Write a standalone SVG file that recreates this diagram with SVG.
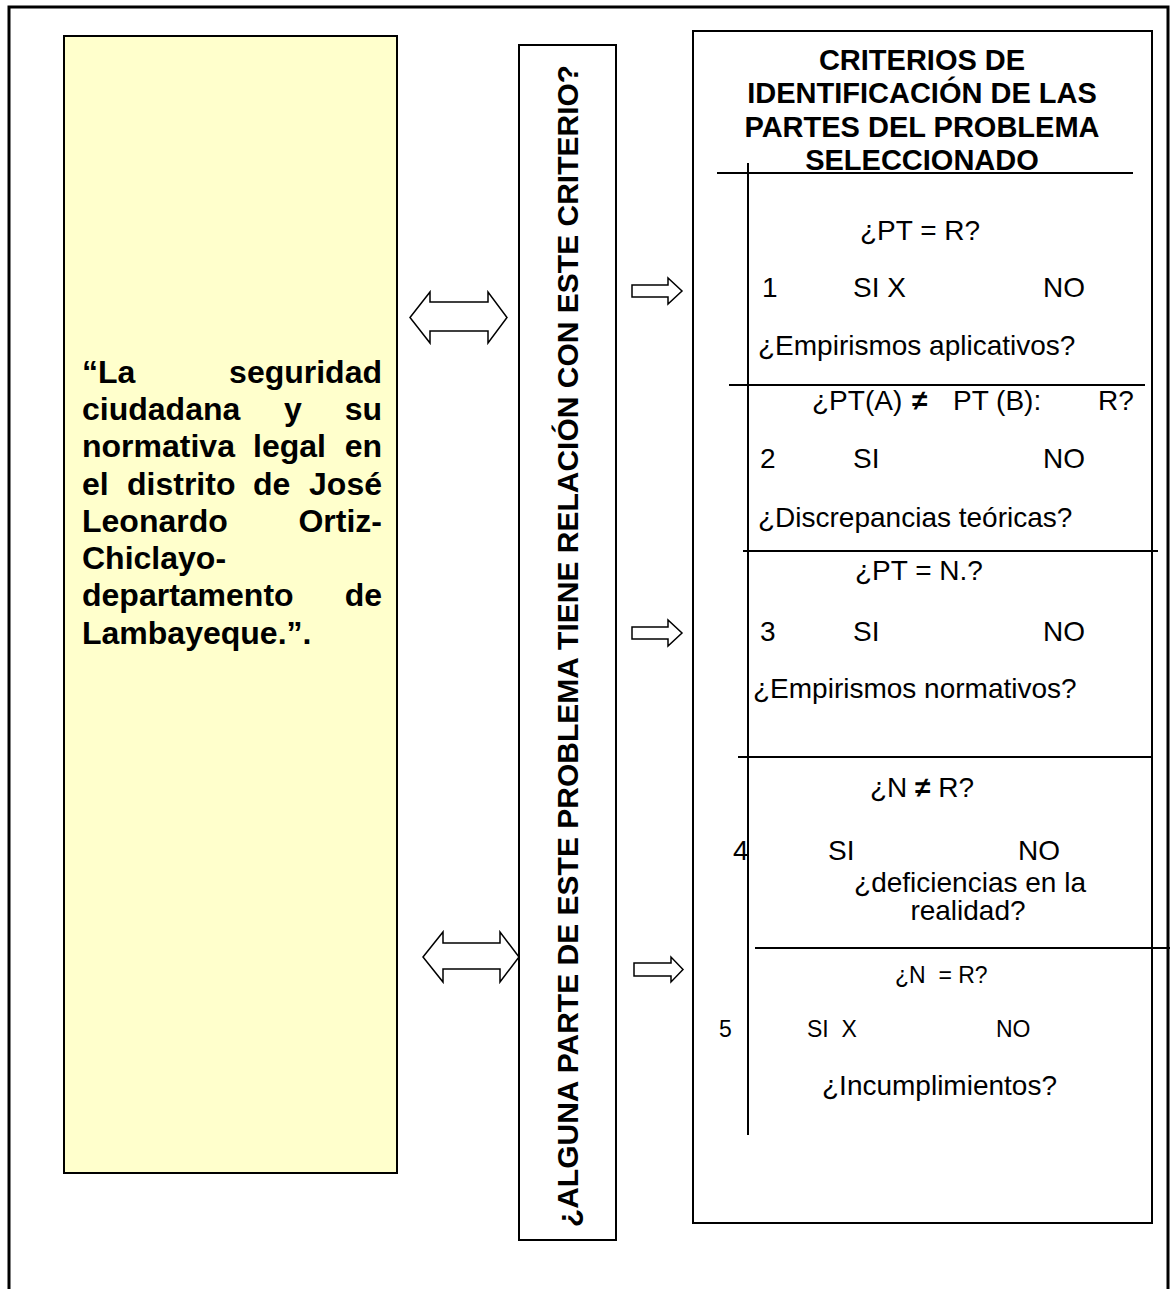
<svg xmlns="http://www.w3.org/2000/svg" width="1171" height="1289" viewBox="0 0 1171 1289">
<style>
.box{fill:#fff;stroke:#000;stroke-width:2}
.yel{fill:#FFFFCC;stroke:#000;stroke-width:2}
.ln{stroke:#000;stroke-width:2;fill:none}
.arr{fill:#fff;stroke:#000;stroke-width:1.5;stroke-linejoin:miter}
.t{font-family:"Liberation Sans",Arial,sans-serif;font-size:28px;fill:#000}
.s{font-family:"Liberation Sans",Arial,sans-serif;font-size:23px;fill:#000}
.b{font-family:"Liberation Sans",Arial,sans-serif;font-size:29px;font-weight:bold;fill:#000}
.y{font-family:"Liberation Sans",Arial,sans-serif;font-size:32px;font-weight:bold;fill:#000}
.v{font-family:"Liberation Sans",Arial,sans-serif;font-size:30px;font-weight:bold;fill:#000}
</style>
<rect width="1171" height="1289" fill="#fff"/>
<path d="M9,1289 V7 H1168 V1289" fill="none" stroke="#000" stroke-width="3"/>

<g id="problema">
<rect class="yel" x="64" y="36" width="333" height="1137"/>
<text class="y" x="82" y="383">“La</text>
<text class="y" x="382" y="383" text-anchor="end">seguridad</text>
<text class="y" x="82" y="420">ciudadana</text>
<text class="y" x="284" y="420">y</text>
<text class="y" x="382" y="420" text-anchor="end">su</text>
<text class="y" x="82" y="457">normativa</text>
<text class="y" x="253" y="457">legal</text>
<text class="y" x="382" y="457" text-anchor="end">en</text>
<text class="y" x="82" y="495">el</text>
<text class="y" x="127" y="495">distrito</text>
<text class="y" x="253" y="495">de</text>
<text class="y" x="382" y="495" text-anchor="end">José</text>
<text class="y" x="82" y="532">Leonardo</text>
<text class="y" x="382" y="532" text-anchor="end">Ortiz-</text>
<text class="y" x="82" y="569">Chiclayo-</text>
<text class="y" x="82" y="606">departamento</text>
<text class="y" x="382" y="606" text-anchor="end">de</text>
<text class="y" x="82" y="644">Lambayeque.”.</text>
</g>

<g id="pregunta">
<rect class="box" x="519" y="45" width="97" height="1195"/>
<text class="v" transform="translate(567,646) rotate(-90)" y="10.5" text-anchor="middle">¿ALGUNA PARTE DE ESTE PROBLEMA TIENE RELACIÓN CON ESTE CRITERIO?</text>
</g>

<g id="criterios">
<rect class="box" x="693" y="31" width="459" height="1192"/>
<text class="b" x="922" y="70" text-anchor="middle">CRITERIOS DE</text>
<text class="b" x="922" y="103" text-anchor="middle">IDENTIFICACIÓN DE LAS</text>
<text class="b" x="922" y="137" text-anchor="middle">PARTES DEL PROBLEMA</text>
<text class="b" x="922" y="170" text-anchor="middle">SELECCIONADO</text>
<line class="ln" x1="717" y1="173" x2="1133" y2="173"/>
<line class="ln" x1="748" y1="163" x2="748" y2="1135"/>
<line class="ln" x1="729" y1="385" x2="1145" y2="385"/>
<line class="ln" x1="743" y1="551" x2="1158" y2="551"/>
<line class="ln" x1="738" y1="757" x2="1153" y2="757"/>
<line class="ln" x1="755" y1="948" x2="1170" y2="948"/>

<text class="t" x="860" y="240">¿PT = R?</text>
<text class="t" x="762" y="297">1</text>
<text class="t" x="853" y="297">SI X</text>
<text class="t" x="1043" y="297">NO</text>
<text class="t" x="758" y="355">¿Empirismos aplicativos?</text>

<text class="t" x="812" y="410">¿PT(A)</text>
<text class="t" x="912" y="410" font-weight="bold">≠</text>
<text class="t" x="953" y="410">PT (B):</text>
<text class="t" x="1098" y="410">R?</text>
<text class="t" x="760" y="468">2</text>
<text class="t" x="853" y="468">SI</text>
<text class="t" x="1043" y="468">NO</text>
<text class="t" x="758" y="527">¿Discrepancias teóricas?</text>

<text class="t" x="855" y="580">¿PT = N.?</text>
<text class="t" x="760" y="641">3</text>
<text class="t" x="853" y="641">SI</text>
<text class="t" x="1043" y="641">NO</text>
<text class="t" x="753" y="698">¿Empirismos normativos?</text>

<text class="t" x="870" y="797">¿N <tspan font-weight="bold">≠</tspan> R?</text>
<text class="t" x="733" y="860">4</text>
<text class="t" x="828" y="860">SI</text>
<text class="t" x="1018" y="860">NO</text>
<text class="t" x="970" y="892" text-anchor="middle">¿deficiencias en la</text>
<text class="t" x="968" y="920" text-anchor="middle">realidad?</text>

<text class="s" x="895" y="983" xml:space="preserve">¿N  = R?</text>
<text class="s" x="719" y="1037">5</text>
<text class="s" x="807" y="1037" xml:space="preserve">SI  X</text>
<text class="s" x="996" y="1037">NO</text>
<text class="t" x="822" y="1095">¿Incumplimientos?</text>
</g>

<g id="conectores">
<polygon class="arr" points="410,317.5 430,292 430,302 488,302 488,292 507,317.5 488,343 488,331 430,331 430,343"/>
<polygon class="arr" points="423,957 443,932 443,943 500,943 500,932 519,957 500,982 500,969 443,969 443,982"/>
<polygon class="arr" points="632,285 668,285 668,278 682,291 668,304 668,297 632,297"/>
<polygon class="arr" points="632,627 668,627 668,620 682,633 668,646 668,639 632,639"/>
<polygon class="arr" points="634,963 671,963 671,957 683,969.5 671,982 671,976 634,976"/>
</g>
</svg>
